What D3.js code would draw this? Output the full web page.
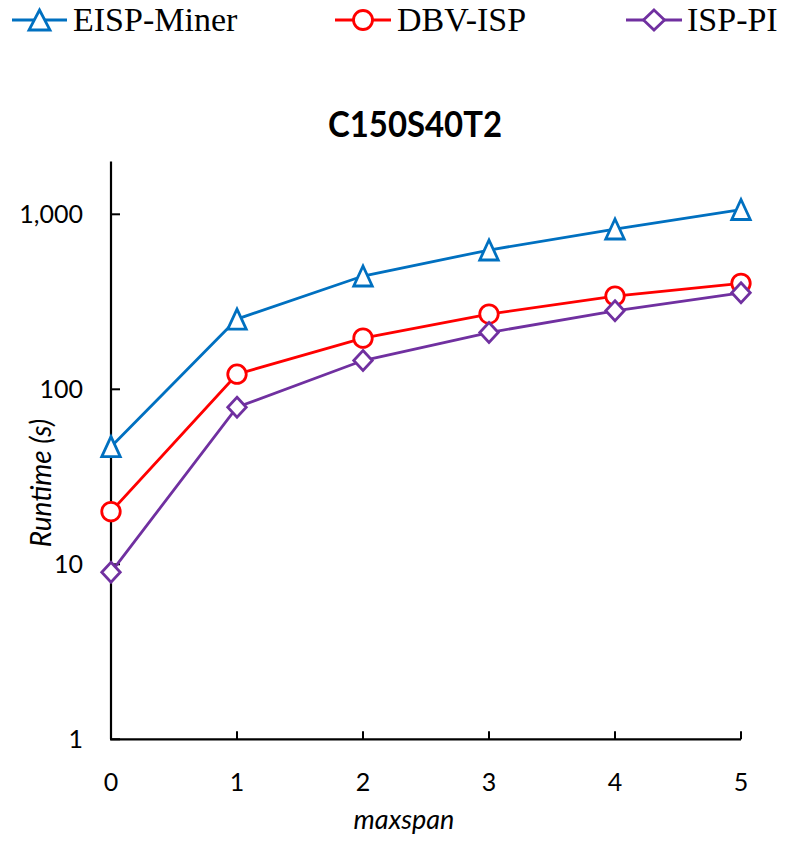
<!DOCTYPE html>
<html>
<head>
<meta charset="utf-8">
<script src="https://cdn.jsdelivr.net/npm/d3@7/dist/d3.min.js"></script>
<style>
  html, body { margin: 0; padding: 0; background: #fff; }
  svg { display: block; }
</style>
</head>
<body>
<svg id="chart" width="786" height="843"></svg>
<script>
// maxspan values on the x axis
const categories = [0, 1, 2, 3, 4, 5];
// runtime in seconds for each algorithm
const eispMiner = [47, 252, 444, 625, 824, 1065];
const dbvIsp    = [20, 122, 196, 269, 341, 403];
const ispPi     = [9, 79, 146, 211, 281, 356];
const yTickValues = [1, 10, 100, 1000];
const seriesNames = ["EISP-Miner", "DBV-ISP", "ISP-PI"];

const series = [
  { name: seriesNames[0], values: eispMiner, color: "#0070C0", marker: "triangle" },
  { name: seriesNames[1], values: dbvIsp,    color: "#FF0000", marker: "circle" },
  { name: seriesNames[2], values: ispPi,     color: "#7030A0", marker: "diamond" }
];

const svg = d3.select("#chart");
const labelFont = "Lato, 'Open Sans', sans-serif";

const x = d3.scaleLinear().domain([0, 5]).range([111, 741]);
const y = d3.scaleLog().domain([1, 2000]).range([739.3, 739.3 - 175 * Math.log10(2000)]);

// marker path generator, w x h bounding box centred on the point
function markerPath(type, w, h) {
  const hw = w / 2, hh = h / 2;
  if (type === "triangle") return `M0,${-hh}L${hw},${hh}L${-hw},${hh}Z`;
  if (type === "diamond") return `M0,${-hh}L${hw},0L0,${hh}L${-hw},0Z`;
  return null;
}

function drawMarker(g, type, cx, cy, color, w, h) {
  if (type === "circle") {
    g.append("ellipse").attr("cx", cx).attr("cy", cy).attr("rx", w / 2).attr("ry", h / 2)
      .attr("fill", "#fff").attr("stroke", color).attr("stroke-width", 2.8);
  } else {
    g.append("path").attr("d", markerPath(type, w, h))
      .attr("transform", `translate(${cx},${cy})`)
      .attr("fill", "#fff").attr("stroke", color).attr("stroke-width", 2.8)
      .attr("stroke-linejoin", "miter");
  }
}

// Title
svg.append("text")
  .attr("x", 415).attr("y", 137)
  .attr("text-anchor", "middle")
  .attr("font-family", labelFont).attr("font-weight", "bold")
  .attr("font-size", 36)
  .attr("textLength", 174).attr("lengthAdjust", "spacingAndGlyphs")
  .text("C150S40T2");

// Axes
const axisG = svg.append("g");
axisG.append("line").attr("x1", x(0)).attr("x2", x(0)).attr("y1", y(2000)).attr("y2", y(1))
  .attr("stroke", "#000").attr("stroke-width", 2.2);
axisG.append("line").attr("x1", x(0) - 1).attr("x2", x(5)).attr("y1", y(1)).attr("y2", y(1))
  .attr("stroke", "#000").attr("stroke-width", 2.2);

// y ticks (inward) and labels
yTickValues.forEach(v => {
  axisG.append("line").attr("x1", x(0)).attr("x2", x(0) + 9).attr("y1", y(v)).attr("y2", y(v))
    .attr("stroke", "#000").attr("stroke-width", 2);
  axisG.append("text").attr("x", 83).attr("y", y(v) + 9)
    .attr("text-anchor", "end").attr("font-family", labelFont).attr("font-size", 25)
    .text(d3.format(",")(v));
});

// x ticks (inward) and labels
categories.forEach(c => {
  if (c > 0) {
    axisG.append("line").attr("x1", x(c)).attr("x2", x(c)).attr("y1", y(1)).attr("y2", y(1) - 8)
      .attr("stroke", "#000").attr("stroke-width", 2);
  }
  axisG.append("text").attr("x", x(c)).attr("y", 791)
    .attr("text-anchor", "middle").attr("font-family", labelFont).attr("font-size", 25)
    .text(c);
});

// Axis titles
svg.append("text").attr("x", 404).attr("y", 829)
  .attr("text-anchor", "middle").attr("font-family", labelFont)
  .attr("font-style", "italic").attr("font-size", 27)
  .text("maxspan");
svg.append("text")
  .attr("transform", "translate(51,483) rotate(-90)")
  .attr("text-anchor", "middle").attr("font-family", labelFont)
  .attr("font-style", "italic").attr("font-size", 28)
  .text("Runtime (s)");

// Series lines and markers
const line = d3.line().x((d, i) => x(categories[i])).y(d => y(d));
const plotG = svg.append("g");
series.forEach(s => {
  plotG.append("path").datum(s.values).attr("d", line)
    .attr("fill", "none").attr("stroke", s.color).attr("stroke-width", 2.8);
});
series.forEach(s => {
  const mg = plotG.append("g");
  s.values.forEach((v, i) => {
    const w = s.marker === "circle" ? 18.5 : 18.5;
    const h = s.marker === "circle" ? 18.5 : 20;
    drawMarker(mg, s.marker, x(categories[i]), y(v), s.color, w, h);
  });
});

// Legend
const legendItems = [
  { s: series[0], x0: 12, x1: 67, tx: 73 },
  { s: series[1], x0: 335, x1: 391, tx: 397 },
  { s: series[2], x0: 626, x1: 682, tx: 687 }
];
const legendG = svg.append("g");
legendItems.forEach(it => {
  const cy = 20;
  legendG.append("line").attr("x1", it.x0).attr("x2", it.x1).attr("y1", cy).attr("y2", cy)
    .attr("stroke", it.s.color).attr("stroke-width", 2.8);
  const cx = (it.x0 + it.x1) / 2;
  drawMarker(legendG, it.s.marker, cx, cy, it.s.color,
    it.s.marker === "circle" ? 19 : 21, it.s.marker === "circle" ? 19 : 20);
  legendG.append("text").attr("x", it.tx).attr("y", 31)
    .attr("font-family", "'Liberation Serif', 'Times New Roman', serif")
    .attr("font-size", 34).text(it.s.name);
});
</script>
</body>
</html>
